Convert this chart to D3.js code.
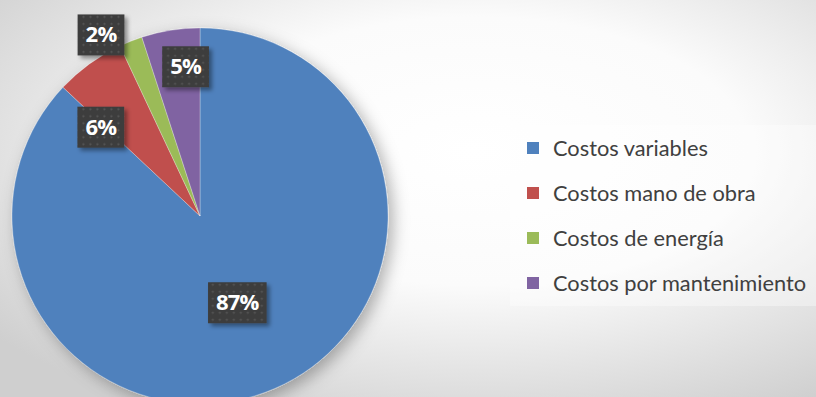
<!DOCTYPE html>
<html>
<head>
<meta charset="utf-8">
<script src="https://cdn.jsdelivr.net/npm/d3@7"></script>
<style>
  html, body { margin: 0; padding: 0; overflow: hidden; }
  svg { display: block; }
</style>
</head>
<body>
<svg id="chart" width="816" height="397"></svg>
<script>
// data
const categories = ["Costos variables", "Costos mano de obra", "Costos de energía", "Costos por mantenimiento"];
const values = [87, 6, 2, 5];
const colors = ["#4f81bd", "#c0504d", "#9bbb59", "#8064a2"];
// label placement (Excel "best fit"): radius as a share of r, angle nudge in degrees
const labelRadius = [0.5, 0.71, 1.1, 0.8];
const labelNudge = [0, -12, -7, 3.5];

const width = 816, height = 397;
const svg = d3.select("#chart");
const defs = svg.append("defs");

// background gradient
const bg = defs.append("radialGradient").attr("id", "bg")
  .attr("cx", "58%").attr("cy", "38%").attr("r", "75%");
bg.append("stop").attr("offset", "0%").attr("stop-color", "#ffffff");
bg.append("stop").attr("offset", "45%").attr("stop-color", "#fbfbfb");
bg.append("stop").attr("offset", "100%").attr("stop-color", "#cfcfcf");
svg.append("rect").attr("width", width).attr("height", height).attr("fill", "url(#bg)");

// shadows
const sh = defs.append("filter").attr("id", "shadow")
  .attr("x", "-20%").attr("y", "-20%").attr("width", "140%").attr("height", "140%");
sh.append("feDropShadow").attr("dx", 5).attr("dy", 5).attr("stdDeviation", 8)
  .attr("flood-color", "#000").attr("flood-opacity", 0.3);
const sh2 = defs.append("filter").attr("id", "boxshadow")
  .attr("x", "-30%").attr("y", "-30%").attr("width", "160%").attr("height", "160%");
sh2.append("feDropShadow").attr("dx", 3).attr("dy", 3).attr("stdDeviation", 2)
  .attr("flood-color", "#000").attr("flood-opacity", 0.4);

// dotted pattern for label boxes
const pat = defs.append("pattern").attr("id", "dots")
  .attr("patternUnits", "userSpaceOnUse").attr("width", 7).attr("height", 7);
pat.append("rect").attr("width", 7).attr("height", 7).attr("fill", "#3c3c3c");
pat.append("circle").attr("cx", 3.5).attr("cy", 3.5).attr("r", 1.1).attr("fill", "#5a5a5a");

// pie
const cx = 200, cy = 216, r = 188;
const pie = d3.pie().sort(null).value(d => d)(values);
const arc = d3.arc().innerRadius(0).outerRadius(r);

const g = svg.append("g").attr("transform", `translate(${cx},${cy})`);
g.append("g").attr("filter", "url(#shadow)")
  .selectAll("path")
  .data(pie)
  .join("path")
  .attr("d", arc)
  .attr("fill", (d, i) => colors[i])
  .attr("stroke", "rgba(255,255,255,0.35)")
  .attr("stroke-width", 0.8);

// data labels
const labels = g.selectAll("g.lbl")
  .data(pie)
  .join("g")
  .attr("class", "lbl")
  .attr("transform", (d, i) => {
    const a = (d.startAngle + d.endAngle) / 2 + labelNudge[i] * Math.PI / 180;
    const rr = r * labelRadius[i];
    return `translate(${rr * Math.sin(a)},${-rr * Math.cos(a)})`;
  });

labels.each(function(d, i) {
  const sel = d3.select(this);
  const txt = sel.append("text")
    .attr("text-anchor", "middle")
    .attr("dy", "0.36em")
    .attr("fill", "#ffffff")
    .attr("font-family", "Open Sans, sans-serif")
    .attr("font-weight", "bold")
    .attr("font-size", 22)
    .attr("letter-spacing", -0.8)
    .text(Math.round(d.data / d3.sum(values) * 100) + "%");
  const w = txt.node().getComputedTextLength() + 16;
  sel.insert("rect", "text")
    .attr("x", -w / 2).attr("y", -20)
    .attr("width", w).attr("height", 41)
    .attr("fill", "url(#dots)")
    .attr("filter", "url(#boxshadow)");
});

// legend
const legend = svg.append("g").attr("transform", "translate(510,125)");
legend.append("rect").attr("width", 306).attr("height", 181)
  .attr("fill", "#ffffff").attr("fill-opacity", 0.35);
const y = d3.scalePoint().domain(categories).range([23, 158]);
const item = legend.selectAll("g.item").data(categories).join("g")
  .attr("class", "item")
  .attr("transform", d => `translate(17,${y(d)})`);
item.append("rect").attr("x", 0).attr("y", -6).attr("width", 12).attr("height", 12)
  .attr("fill", (d, i) => colors[i]);
item.append("text")
  .attr("x", 26).attr("dy", "0.36em")
  .attr("fill", "#404040")
  .attr("font-family", "Lato, sans-serif")
  .attr("font-size", 21.8)
  .text(d => d);
</script>
</body>
</html>
